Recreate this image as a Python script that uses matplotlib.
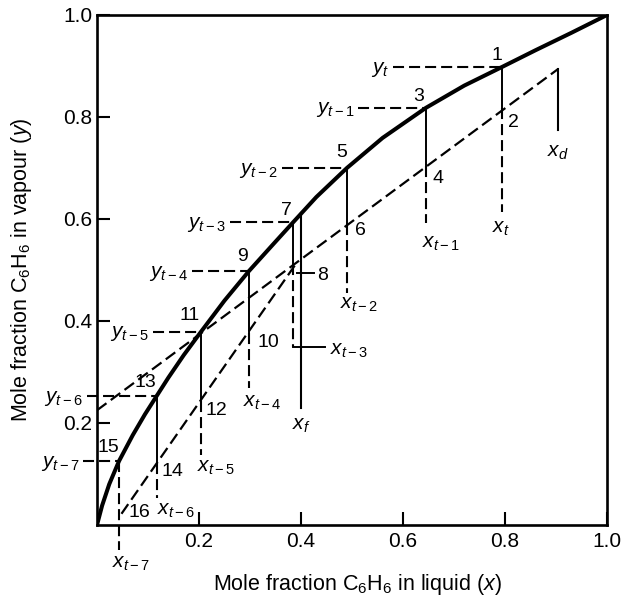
import matplotlib
matplotlib.use('Agg')
import matplotlib.pyplot as plt

plt.rcParams['font.family'] = ['Liberation Sans', 'DejaVu Sans']
plt.rcParams['mathtext.fontset'] = 'custom'
plt.rcParams['mathtext.rm'] = 'Liberation Sans'
plt.rcParams['mathtext.it'] = 'Liberation Sans:italic'
plt.rcParams['mathtext.bf'] = 'Liberation Sans:bold'

# ---- data ----
eq_x = [0.0, 0.01, 0.024, 0.043, 0.07, 0.094, 0.117, 0.14, 0.17, 0.204, 0.25,
        0.298, 0.345, 0.385, 0.43, 0.49, 0.56, 0.645, 0.72, 0.794, 0.86, 0.93, 1.0]
eq_y = [0.0, 0.038, 0.08, 0.125, 0.176, 0.217, 0.253, 0.289, 0.333, 0.379, 0.44,
        0.498, 0.55, 0.594, 0.643, 0.70, 0.759, 0.818, 0.8615, 0.898, 0.931, 0.965, 1.0]

rect_x = [0.0, 0.904]
rect_y = [0.225, 0.894]
strip_x = [0.048, 0.39]
strip_y = [0.022, 0.512]

xd = 0.904
xd_y = [0.894, 0.775]
xf = 0.40
xf_y = [0.612, 0.23]

# stages (odd points on the equilibrium curve, even points on operating lines)
stage_x = [0.794, 0.645, 0.49, 0.385, 0.298, 0.204, 0.117, 0.043]
stage_yv = [0.898, 0.818, 0.70, 0.594, 0.498, 0.379, 0.253, 0.125]
stage_yo = [0.818, 0.704, 0.590, 0.511, 0.376, 0.244, 0.122, 0.022]
xlab_end = [0.614, 0.592, 0.455, 0.349, 0.268, 0.137, 0.053, -0.049]
ylab_start = [0.58, 0.512, 0.362, 0.26, 0.186, 0.11, -0.02, -0.027]

y_labels = ['$y_t$', '$y_{t-1}$', '$y_{t-2}$', '$y_{t-3}$', '$y_{t-4}$', '$y_{t-5}$', '$y_{t-6}$', '$y_{t-7}$']
x_labels = ['$x_t$', '$x_{t-1}$', '$x_{t-2}$', '$x_{t-3}$', '$x_{t-4}$', '$x_{t-5}$', '$x_{t-6}$', '$x_{t-7}$']
x_lab_pos = [(0.775, 0.573), (0.637, 0.543), (0.476, 0.425), (0.457, 0.333),
             (0.286, 0.231), (0.196, 0.104), (0.118, 0.02), (0.029, -0.084)]
xt3_hline = [0.385, 0.447]
xt3_y = 0.349

odd_nums = ['1', '3', '5', '7', '9', '11', '13', '15']
odd_pos = [(0.784, 0.92), (0.631, 0.841), (0.48, 0.731), (0.371, 0.616),
           (0.285, 0.527), (0.182, 0.41), (0.094, 0.279), (0.022, 0.152)]
even_nums = ['2', '4', '6', '8', '10', '12', '14', '16']
even_pos = [(0.806, 0.79), (0.657, 0.68), (0.506, 0.578), (0.431, 0.49),
            (0.314, 0.357), (0.212, 0.225), (0.127, 0.104), (0.061, 0.025)]
lead8_x = [0.392, 0.425]
lead8_y = 0.494

xticks = [0.2, 0.4, 0.6, 0.8, 1.0]
yticks = [0.2, 0.4, 0.6, 0.8, 1.0]

# ---- figure ----
fig = plt.figure(figsize=(6.23, 6.01), dpi=100)
ax = fig.add_axes([97/623, 76/601, 510/623, 510/601])
ax.set_xlim(0, 1)
ax.set_ylim(0, 1)

dash = (0, (5.3, 2.4))
K = 'black'

ax.plot(eq_x, eq_y, color=K, lw=2.9, solid_joinstyle='round', solid_capstyle='round', zorder=5)
ax.plot(rect_x, rect_y, color=K, lw=1.6, linestyle=dash, zorder=4)
ax.plot(strip_x, strip_y, color=K, lw=1.6, linestyle=dash, zorder=4)
ax.plot([xd, xd], xd_y, color=K, lw=1.5)
ax.plot([xf, xf], xf_y, color=K, lw=1.5)

for i in range(len(stage_x)):
    x = stage_x[i]
    if i < 7:
        ax.plot([x, x], [stage_yv[i], stage_yo[i]], color=K, lw=1.4)
        ax.plot([x, x], [stage_yo[i], xlab_end[i]], color=K, lw=1.5, linestyle=dash, clip_on=False)
    else:
        ax.plot([x, x], [stage_yv[i], xlab_end[i]], color=K, lw=1.5, linestyle=dash, clip_on=False)
    ax.plot([ylab_start[i], x], [stage_yv[i], stage_yv[i]], color=K, lw=1.5, linestyle=dash, clip_on=False)
    ax.text(ylab_start[i] - 0.008, stage_yv[i] - 0.011, y_labels[i], fontsize=15,
            ha='right', va='baseline', clip_on=False)
    ax.text(x_lab_pos[i][0], x_lab_pos[i][1], x_labels[i], fontsize=15,
            ha='left', va='baseline', clip_on=False)
    ax.text(odd_pos[i][0], odd_pos[i][1], odd_nums[i], fontsize=14, ha='center', va='center')
    ax.text(even_pos[i][0], even_pos[i][1], even_nums[i], fontsize=14, ha='left', va='center')

ax.plot(xt3_hline, [xt3_y, xt3_y], color=K, lw=1.4)
ax.plot(lead8_x, [lead8_y, lead8_y], color=K, lw=1.4)
ax.text(0.882, 0.722, '$x_d$', fontsize=15, ha='left', va='baseline')
ax.text(0.382, 0.186, '$x_f$', fontsize=15, ha='left', va='baseline')

ax.set_xticks(xticks)
ax.set_yticks(yticks)
ax.set_xticklabels([f'{v:.1f}' for v in xticks])
ax.set_yticklabels([f'{v:.1f}' for v in yticks])
ax.tick_params(direction='in', length=9.5, width=1.5, labelsize=15)
ax.tick_params(axis='x', pad=5)
ax.tick_params(axis='y', pad=3.5)
for s in ax.spines.values():
    s.set_linewidth(1.9)

ax.set_xlabel('Mole fraction C$_6$H$_6$ in liquid ($x$)', fontsize=15.5)
ax.set_ylabel('Mole fraction C$_6$H$_6$ in vapour ($y$)', fontsize=15.5)
ax.xaxis.set_label_coords(0.51, -0.092)
ax.xaxis.label.set_va('top')
ax.yaxis.set_label_coords(-0.124, 0.5)

fig.savefig('out.png', dpi=100)
